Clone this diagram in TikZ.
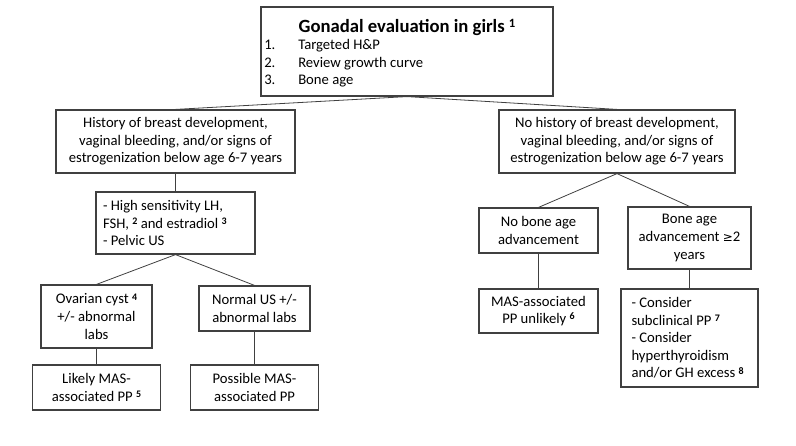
\documentclass[tikz,border=0pt]{standalone}
\usepackage{fontspec}
\setmainfont{Carlito}
\definecolor{edge}{HTML}{404040}
\newcommand\sups[1]{\smash{\raisebox{0.55ex}{\fontsize{7.5}{7.5}\selectfont\bfseries #1}}}
\newcommand\tsups[1]{\smash{\raisebox{0.6ex}{\fontsize{9.5}{9.5}\selectfont\bfseries #1}}}
\begin{document}
\begin{tikzpicture}[x=0.75pt,y=-0.75pt,
  box/.style={draw=edge, line width=0.9pt, inner sep=0pt, align=center,
    font=\fontsize{11}{13.2}\selectfont},
  link/.style={draw=edge, line width=0.6pt}]
\useasboundingbox (0,0) rectangle (796,446);
% top
\node[box, minimum width=292*0.75pt, minimum height=89*0.75pt] (top) at (407,51.5) {};
\node[inner sep=0pt, font=\fontsize{14}{16}\selectfont\bfseries] (title) at (407,28) {Gonadal evaluation in girls \tsups{1}};
\node[inner sep=0pt, anchor=west, align=left, font=\fontsize{11}{13.2}\selectfont] (list) at (264,63.5)
  {\makebox[25.5pt][l]{1.}Targeted H\&P\\ \makebox[25.5pt][l]{2.}Review growth curve\\ \makebox[25.5pt][l]{3.}Bone age};
% level 2
\node[box, minimum width=239*0.75pt, minimum height=63*0.75pt] (left) at (175.5,141.5)
  {History of breast development,\\vaginal bleeding, and/or signs of\\estrogenization below age 6-7 years};
\node[box, minimum width=236*0.75pt, minimum height=63*0.75pt] (right) at (617,141.5)
  {No history of breast development,\\vaginal bleeding, and/or signs of\\estrogenization below age 6-7 years};
% left branch
\node[box, minimum width=159*0.75pt, minimum height=62*0.75pt, align=flush left, text width=145*0.75pt] (lab) at (175.5,223)
  {- High sensitivity LH,\\FSH, \sups{2} and estradiol \sups{3}\\- Pelvic US};
\node[box, minimum width=111*0.75pt, minimum height=63*0.75pt] (ovarian) at (96.5,316.5)
  {Ovarian cyst \sups{4}\\+/- abnormal\\labs};
\node[box, minimum width=111*0.75pt, minimum height=45*0.75pt] (normal) at (254.5,308.5)
  {Normal US +/-\\abnormal labs};
\node[box, minimum width=128*0.75pt, minimum height=45*0.75pt] (likely) at (96.5,387.5)
  {Likely MAS-\\associated PP \sups{5}};
\node[box, minimum width=128*0.75pt, minimum height=45*0.75pt] (possible) at (254.5,387.5)
  {Possible MAS-\\associated PP};
% right branch
\node[box, minimum width=119*0.75pt, minimum height=45*0.75pt] (nobone) at (538.5,230.5)
  {No bone age\\advancement};
\node[box, minimum width=123*0.75pt, minimum height=62*0.75pt] (boneadv) at (689.5,238)
  {Bone age\\advancement {\fontspec{DejaVu Sans}\fontsize{9}{11}\selectfont ≥}2\\years};
\node[box, minimum width=119*0.75pt, minimum height=44*0.75pt] (unlikely) at (538.5,311)
  {MAS-associated\\PP unlikely \sups{6}};
\node[box, minimum width=137*0.75pt, minimum height=98*0.75pt, align=flush left, text width=116*0.75pt] (consider) at (689.5,338)
  {- Consider\\subclinical PP \sups{7}\\- Consider\\hyperthyroidism\\and/or GH excess \sups{8}};
% connectors
\draw[link] (top.south) -- (left.north);
\draw[link] (top.south) -- (right.north);
\draw[link] (left.south) -- (lab.north);
\draw[link] (lab.south) -- (ovarian.north);
\draw[link] (lab.south) -- (normal.north);
\draw[link] (ovarian.south) -- (likely.north);
\draw[link] (normal.south) -- (possible.north);
\draw[link] (right.south) -- (nobone.north);
\draw[link] (right.south) -- (boneadv.north);
\draw[link] (nobone.south) -- (unlikely.north);
\draw[link] (boneadv.south) -- (consider.north);
\end{tikzpicture}
\end{document}
